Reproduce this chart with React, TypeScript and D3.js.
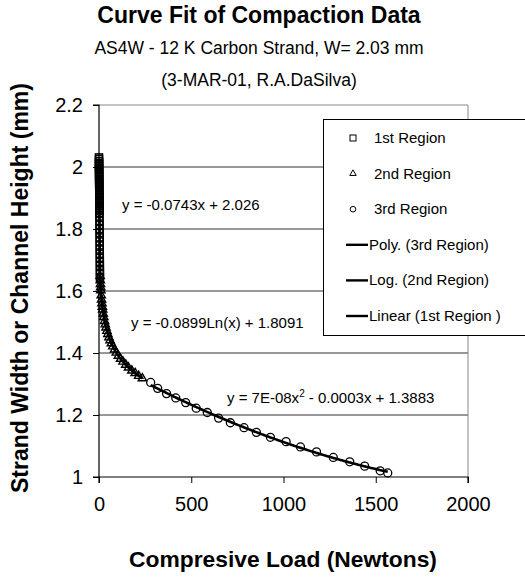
import React, { useEffect, useRef } from 'react';
import * as d3 from 'd3';

// 1st region (squares): [load N, height mm]
const region1: [number, number][] = [
  [0.0, 2.031], [0.05, 2.026], [0.12, 2.019], [0.18, 2.013], [0.24, 2.009], [0.31, 2.003],
  [0.38, 1.998], [0.44, 1.993], [0.51, 1.989], [0.58, 1.983], [0.65, 1.977], [0.72, 1.972],
  [0.79, 1.967], [0.86, 1.962], [0.93, 1.957], [1.0, 1.951], [1.07, 1.946], [1.14, 1.941],
  [1.21, 1.936], [1.28, 1.931], [1.35, 1.925], [1.42, 1.921], [1.49, 1.915], [1.56, 1.91],
  [1.63, 1.905], [1.7, 1.899], [1.77, 1.894], [1.84, 1.889], [1.91, 1.884], [1.98, 1.879],
  [2.05, 1.873], [2.12, 1.868], [2.19, 1.863], [2.27, 1.858], [2.35, 1.852], [2.52, 1.84],
  [2.7, 1.826], [2.88, 1.813], [3.05, 1.8], [3.23, 1.787], [3.41, 1.773], [3.58, 1.76],
  [3.76, 1.747], [3.94, 1.734], [4.12, 1.72], [4.3, 1.707], [4.47, 1.694], [4.65, 1.681],
  [4.83, 1.667], [5.0, 1.655], [5.18, 1.642],
];

// 2nd region (triangles)
const region2: [number, number][] = [
  [6, 1.648], [7, 1.634], [8, 1.622], [9, 1.612], [10, 1.602], [12, 1.586], [14, 1.572],
  [16, 1.56], [18, 1.549], [20, 1.54], [23, 1.527], [26, 1.516], [30, 1.503], [34, 1.492],
  [38, 1.482], [43, 1.471], [48, 1.461], [54, 1.45], [60, 1.441], [67, 1.431], [75, 1.421],
  [84, 1.411], [94, 1.401], [105, 1.391], [117, 1.381], [130, 1.372], [145, 1.362],
  [160, 1.353], [178, 1.343], [196, 1.335], [215, 1.326], [235, 1.318],
];

// 3rd region (circles)
const region3: [number, number][] = [
  [280, 1.305], [318, 1.286], [366, 1.269], [416, 1.255], [470, 1.24], [527, 1.222],
  [587, 1.208], [648, 1.19], [712, 1.175], [786, 1.159], [853, 1.144], [929, 1.128],
  [1014, 1.114], [1092, 1.097], [1179, 1.081], [1270, 1.063], [1359, 1.049], [1440, 1.035],
  [1524, 1.02], [1565, 1.013],
];

const xTicks = [0, 500, 1000, 1500, 2000];
const yTicks = [1, 1.2, 1.4, 1.6, 1.8, 2, 2.2];

const legendItems = [
  { label: '1st Region', kind: 'square' },
  { label: '2nd Region', kind: 'triangle' },
  { label: '3rd Region', kind: 'circle' },
  { label: 'Poly. (3rd Region)', kind: 'line' },
  { label: 'Log. (2nd Region)', kind: 'line' },
  { label: 'Linear (1st Region )', kind: 'line' },
];

const FONT = '"Liberation Sans", Arial, sans-serif';

// least squares polynomial fit, returns coefficients [c0, c1, ...]
function polyFit(xs: number[], ys: number[], deg: number) {
  const n = deg + 1;
  const A: number[][] = [];
  for (let i = 0; i < n; i++) {
    A.push([]);
    for (let j = 0; j < n; j++) A[i].push(d3.sum(xs, x => Math.pow(x, i + j)));
    A[i].push(d3.sum(xs, (x, k) => Math.pow(x, i) * ys[k]));
  }
  for (let i = 0; i < n; i++) {
    for (let r = i + 1; r < n; r++) {
      const f = A[r][i] / A[i][i];
      for (let c = i; c <= n; c++) A[r][c] -= f * A[i][c];
    }
  }
  const coef = new Array(n).fill(0);
  for (let i = n - 1; i >= 0; i--) {
    let s = A[i][n];
    for (let j = i + 1; j < n; j++) s -= A[i][j] * coef[j];
    coef[i] = s / A[i][i];
  }
  return coef;
}

const App = () => {
  const svgRef = useRef<SVGSVGElement>(null);

  useEffect(() => {
    const width = 525;
    const height = 577;
    const svg = d3.select(svgRef.current);
    svg.selectAll('*').remove();

    const x = d3.scaleLinear().domain([0, 2000]).range([99, 468]);
    const y = d3.scaleLinear().domain([1, 2.2]).range([477, 105]);

    svg.append('rect').attr('width', width).attr('height', height).attr('fill', '#fff');

    // gridlines
    svg.append('g')
      .selectAll('line')
      .data(yTicks.slice(1, -1))
      .join('line')
      .attr('x1', x(0)).attr('x2', x(2000))
      .attr('y1', d => y(d)).attr('y2', d => y(d))
      .attr('stroke', '#333').attr('stroke-width', 1);

    // plot border (top / right)
    svg.append('path')
      .attr('d', `M${x(0)},${y(2.2)}H${x(2000)}V${y(1)}`)
      .attr('fill', 'none').attr('stroke', '#888').attr('stroke-width', 1);

    // axes
    const yAxis = d3.axisLeft(y).tickValues(yTicks).tickSize(6).tickPadding(10)
      .tickFormat(d => String(d));
    const gy = svg.append('g').attr('transform', `translate(${x(0)},0)`).call(yAxis);
    const xAxis = d3.axisBottom(x).tickValues(xTicks).tickSize(6).tickPadding(14)
      .tickFormat(d => String(d));
    const gx = svg.append('g').attr('transform', `translate(0,${y(1)})`).call(xAxis);
    [gx, gy].forEach(g => {
      g.select('.domain').attr('stroke', '#000').attr('stroke-width', 1.2);
      g.selectAll('.tick line').attr('stroke', '#000');
      g.selectAll('.tick text')
        .attr('font-family', FONT).attr('font-size', 20).attr('fill', '#000');
    });
    gy.select('.domain').attr('d', `M-6,${y(2.2)}H0V${y(1)}H-6`);
    gx.select('.domain').attr('d', `M${x(0)},6V0H${x(2000)}V6`);

    // trendlines computed from data
    const lin = polyFit(region1.map(d => d[0]), region1.map(d => d[1]), 1);
    const lg = polyFit(region2.map(d => Math.log(d[0])), region2.map(d => d[1]), 1);
    const quad = polyFit(region3.map(d => d[0]), region3.map(d => d[1]), 2);

    const line = d3.line<[number, number]>().x(d => x(d[0])).y(d => y(d[1]));
    const sample = (x0: number, x1: number, f: (v: number) => number) =>
      d3.range(0, 201).map(i => {
        const v = x0 + ((x1 - x0) * i) / 200;
        return [v, f(v)] as [number, number];
      });

    const plot = svg.append('g');

    // markers
    plot.append('g').selectAll('rect').data(region1).join('rect')
      .attr('x', d => x(d[0]) - 3.5).attr('y', d => y(d[1]) - 3.5)
      .attr('width', 7).attr('height', 7)
      .attr('fill', 'none').attr('stroke', '#000').attr('stroke-width', 1.5);

    const tri = d3.symbol().type(d3.symbolTriangle).size(30);
    plot.append('g').selectAll('path').data(region2).join('path')
      .attr('d', tri)
      .attr('transform', d => `translate(${x(d[0])},${y(d[1])})`)
      .attr('fill', 'none').attr('stroke', '#000').attr('stroke-width', 1.4);

    plot.append('g').selectAll('circle').data(region3).join('circle')
      .attr('cx', d => x(d[0])).attr('cy', d => y(d[1])).attr('r', 4)
      .attr('fill', 'none').attr('stroke', '#000').attr('stroke-width', 1.3);

    const x1a = d3.extent(region1, d => d[0]) as [number, number];
    const x2a = d3.extent(region2, d => d[0]) as [number, number];
    const x3a = d3.extent(region3, d => d[0]) as [number, number];

    [
      sample(x3a[0], x3a[1], v => quad[0] + quad[1] * v + quad[2] * v * v),
      sample(x2a[0], x2a[1], v => lg[0] + lg[1] * Math.log(v)),
      sample(x1a[0], x1a[1], v => lin[0] + lin[1] * v),
    ].forEach(pts => {
      plot.append('path').attr('d', line(pts))
        .attr('fill', 'none').attr('stroke', '#000').attr('stroke-width', 2.6);
    });

    // equation labels
    const eq = svg.append('g').attr('font-family', FONT).attr('font-size', 15).attr('fill', '#000');
    eq.append('text').attr('x', 122).attr('y', 210).text('y = -0.0743x + 2.026');
    eq.append('text').attr('x', 131).attr('y', 328).text('y = -0.0899Ln(x) + 1.8091');
    const t3 = eq.append('text').attr('x', 227).attr('y', 403);
    t3.append('tspan').text('y = 7E-08x');
    t3.append('tspan').attr('font-size', 10).attr('dy', -6).text('2');
    t3.append('tspan').attr('dy', 6).text(' - 0.0003x + 1.3883');

    // legend
    const lgd = svg.append('g');
    lgd.append('rect')
      .attr('x', 323.5).attr('y', 119.5).attr('width', 220).attr('height', 216)
      .attr('fill', '#fff').attr('stroke', '#000').attr('stroke-width', 1);
    const rows = lgd.selectAll('g.row').data(legendItems).join('g')
      .attr('transform', (_, i) => `translate(0,${138 + i * 35.6})`);
    rows.each(function (d) {
      const g = d3.select(this);
      if (d.kind === 'square') {
        g.append('rect').attr('x', 350).attr('y', -3).attr('width', 6).attr('height', 6)
          .attr('fill', 'none').attr('stroke', '#000');
      } else if (d.kind === 'triangle') {
        g.append('path').attr('d', d3.symbol().type(d3.symbolTriangle).size(18)())
          .attr('transform', 'translate(353,0)').attr('fill', 'none').attr('stroke', '#000');
      } else if (d.kind === 'circle') {
        g.append('circle').attr('cx', 353).attr('cy', 0).attr('r', 2.8)
          .attr('fill', 'none').attr('stroke', '#000');
      } else {
        g.append('line').attr('x1', 346).attr('x2', 368).attr('y1', 0).attr('y2', 0)
          .attr('stroke', '#000').attr('stroke-width', 2.4);
      }
      g.append('text')
        .attr('x', d.kind === 'line' ? 369 : 374).attr('y', 5)
        .attr('font-family', FONT).attr('font-size', 15).text(d.label);
    });

    // titles
    const tt = svg.append('g').attr('font-family', FONT).attr('text-anchor', 'middle').attr('fill', '#000');
    tt.append('text').attr('x', 259).attr('y', 23).attr('font-size', 23).attr('font-weight', 'bold')
      .text('Curve Fit of Compaction Data');
    tt.append('text').attr('x', 259).attr('y', 54).attr('font-size', 17.5)
      .text('AS4W - 12 K Carbon Strand, W= 2.03 mm');
    tt.append('text').attr('x', 259).attr('y', 86).attr('font-size', 17.5)
      .text('(3-MAR-01, R.A.DaSilva)');
    tt.append('text').attr('x', 283).attr('y', 567).attr('font-size', 22.8).attr('font-weight', 'bold')
      .text('Compresive Load (Newtons)');
    tt.append('text').attr('transform', 'translate(28,288) rotate(-90)')
      .attr('font-size', 23).attr('font-weight', 'bold')
      .text('Strand Width or Channel Height (mm)');
  }, []);

  return (
    <svg
      ref={svgRef}
      width={525}
      height={577}
      style={{ position: 'absolute', left: 0, top: 0, display: 'block' }}
    />
  );
};

export default App;
